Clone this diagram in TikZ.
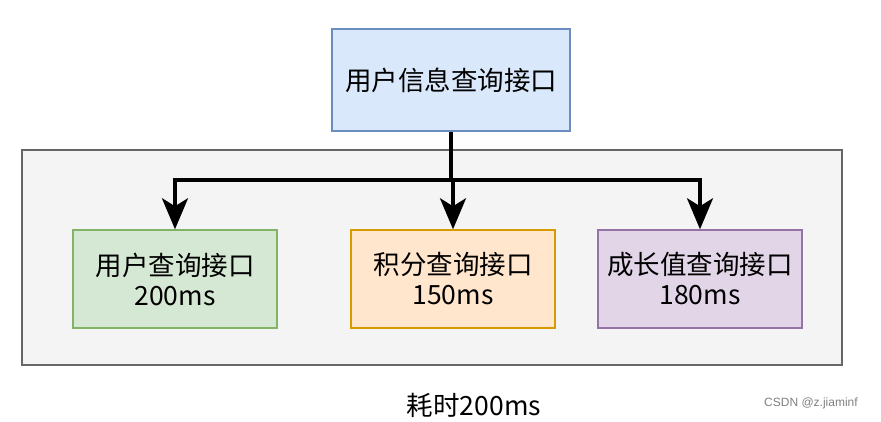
\documentclass[tikz,border=0pt]{standalone}
\usepackage{fontspec}
\setmainfont{Liberation Sans}
\newfontfamily\cjk{Noto Sans CJK SC}
\usetikzlibrary{arrows.meta}
\definecolor{blueFill}{HTML}{DAE8FC}
\definecolor{blueLine}{HTML}{6C8EBF}
\definecolor{greenFill}{HTML}{D5E8D4}
\definecolor{greenLine}{HTML}{82B366}
\definecolor{orangeFill}{HTML}{FFE6CC}
\definecolor{orangeLine}{HTML}{D79B00}
\definecolor{purpleFill}{HTML}{E1D5E7}
\definecolor{purpleLine}{HTML}{9673A6}
\definecolor{grayFill}{HTML}{F4F4F4}
\definecolor{grayLine}{HTML}{666666}
\begin{document}
\begin{tikzpicture}[
  x=1pt, y=-1pt,
  font=\cjk\fontsize{26.5}{30}\selectfont,
  box/.style={draw, line width=1.5pt, align=center, minimum width=204pt, minimum height=98pt, inner sep=0pt},
  api/.style={box, fill=blueFill, draw=blueLine, minimum width=238pt, minimum height=102pt},
  call/.style={line width=3.5pt, -{Stealth[length=31pt, width=26pt, inset=8pt]}}
]
\useasboundingbox (0,0) rectangle (881,421);
\node[draw=grayLine, fill=grayFill, line width=2pt, minimum width=820pt, minimum height=215pt,
  inner sep=0pt] (group) at (432,257.5) {};

\node[api] (info) at (451,80) {用户信息查询接口};

\node[box, fill=greenFill, draw=greenLine] (user) at (175,279)
  {用户查询接口\\200ms};
\node[box, fill=orangeFill, draw=orangeLine] (points) at (453,279)
  {积分查询接口\\150ms};
\node[box, fill=purpleFill, draw=purpleLine] (growth) at (700,279)
  {成长值查询接口\\180ms};

\coordinate (fork) at (451,180);
\draw[line width=3.5pt] (info.south) -- (fork);
\draw[call] (fork) -| (user.north);
\draw[call] (fork -| points.north) -- (points.north);
\draw[call] (fork) -| (growth.north);

\node (total) at (474,405) {耗时200ms};
\node[font=\fontsize{12}{14}\selectfont, text=gray] (mark) at (811,403) {CSDN @z.jiaminf};
\end{tikzpicture}
\end{document}
